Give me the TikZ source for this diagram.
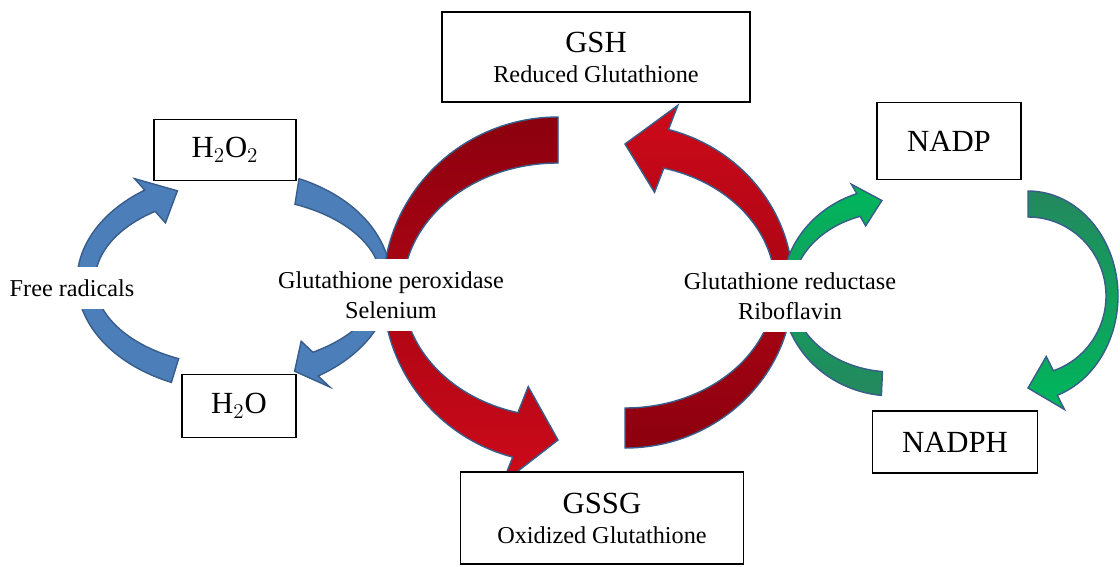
\documentclass[tikz,border=0pt]{standalone}
\usepackage{fontspec}
\setmainfont{Liberation Serif}
\usetikzlibrary{calc}

\definecolor{cycblue}{RGB}{76,126,186}
\definecolor{cycedge}{RGB}{56,93,138}
\definecolor{cycred}{RGB}{205,10,26}
\definecolor{cycdarkred}{RGB}{140,0,14}
\definecolor{cycgreen}{RGB}{0,182,92}
\definecolor{cycdarkgreen}{RGB}{36,136,94}

\begin{document}
\begin{tikzpicture}[x=0.02cm, y=-0.02cm,
    chem box/.style={draw, line width=1pt, fill=white, inner sep=0pt, align=center, font=\fontsize{17.5}{17}\selectfont},
    enzyme/.style={fill=white, align=center, inner xsep=2pt, inner ysep=7pt, font=\fontsize{13.8}{17}\selectfont}]

    \useasboundingbox (0,0) rectangle (1120,566);

    % bent block arrows: centre, radii, half widths, head, tail/base/tip angles, colours
    \foreach \cx/\cy/\rx/\ry/\wx/\wy/\hw/\ta/\hb/\tp/\ct/\cb in {
        236/281/150/98/9/13/27/114/235/247/cycblue/cycblue,
        236/281/150/98/5/14/27/-66/58/67/cycblue/cycblue,
        558/290/165/150/10/23/50/-90/-255/-270/cycdarkred/cycred,
        625/286/159/142/9/20/45/90/-75/-90/cycred/cycdarkred,
        893/292/106/92/5/12/22/96/251/264/cycgreen/cycdarkgreen,
        1028/296/84/92/6/13/28/-90/71/90/cycdarkgreen/cycgreen}
    {
        \pgfmathsetmacro{\rxo}{\rx+\wx}
        \pgfmathsetmacro{\ryo}{\ry+\wy}
        \pgfmathsetmacro{\rxi}{\rx-\wx}
        \pgfmathsetmacro{\ryi}{\ry-\wy}
        \filldraw[draw=cycedge, line width=0.8pt, top color=\ct, bottom color=\cb]
            ([shift={(\cx,\cy)}]\ta:\rxo+0 and \ryo)
            arc[start angle=\ta, end angle=\hb, x radius=\rxo, y radius=\ryo]
            -- ([shift={(\cx,\cy)}]\hb:\rx+\hw+0 and \ry+\hw)
            -- ([shift={(\cx,\cy)}]\tp:\rx+0 and \ry)
            -- ([shift={(\cx,\cy)}]\hb:\rx-\hw+0 and \ry-\hw)
            -- ([shift={(\cx,\cy)}]\hb:\rxi+0 and \ryi)
            arc[start angle=\hb, end angle=\ta, x radius=\rxi, y radius=\ryi]
            -- cycle;
    }

    % labels on the cycles
    \node[enzyme] (free) at (72,288) {Free radicals};
    \node[enzyme] (gpx) at (391,295) {Glutathione peroxidase\\Selenium};
    \node[enzyme] (gr) at (790,296) {Glutathione reductase\\Riboflavin};

    % boxes
    \node[chem box, minimum width=6.16cm, minimum height=1.8cm] (gsh) at (596,57)
        {GSH\\{\fontsize{13.8}{17}\selectfont Reduced Glutathione}};
    \node[chem box, minimum width=5.66cm, minimum height=1.84cm] (gssg) at (602,518)
        {GSSG\\{\fontsize{13.8}{17}\selectfont Oxidized Glutathione}};
    \node[chem box, minimum width=2.84cm, minimum height=1.22cm] (h2o2) at (225,150) {H$_2$O$_2$};
    \node[chem box, minimum width=2.28cm, minimum height=1.26cm] (h2o) at (239,406) {H$_2$O};
    \node[chem box, minimum width=2.88cm, minimum height=1.54cm] (nadp) at (949,141) {NADP};
    \node[chem box, minimum width=3.3cm, minimum height=1.24cm] (nadph) at (955,442) {NADPH};
\end{tikzpicture}
\end{document}
